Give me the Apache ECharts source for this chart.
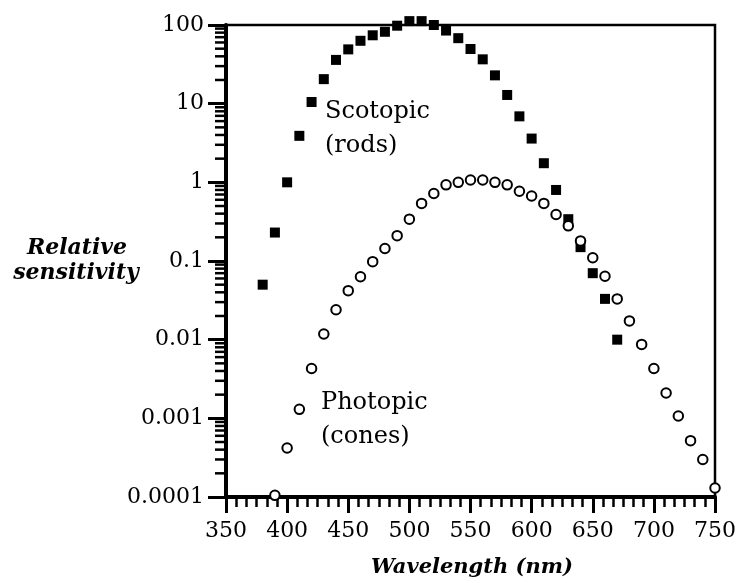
<!DOCTYPE html>
<html>
<head>
<meta charset="utf-8">
<script src="https://cdn.jsdelivr.net/npm/echarts@6/dist/echarts.min.js"></script>
<style>
  html, body { margin: 0; padding: 0; background: #fff; }
  #chart { width: 739px; height: 583px; }
</style>
</head>
<body>
<div id="chart"></div>
<script>
// ---- Data ----
const scotopicWavelengths = [380, 390, 400, 410, 420, 430, 440, 450, 460, 470, 480, 490, 500, 510, 520,
  530, 540, 550, 560, 570, 580, 590, 600, 610, 620, 630, 640, 650, 660, 670];
const scotopicValues = [0.05, 0.23, 1.0, 3.9, 10.5, 20.5, 36, 49, 63, 74, 82, 98, 112, 112, 100,
  85, 68, 49.5, 36.6, 22.9, 12.9, 6.9, 3.6, 1.75, 0.8, 0.34, 0.15, 0.07, 0.033, 0.01];

const photopicWavelengths = [390, 400, 410, 420, 430, 440, 450, 460, 470, 480, 490, 500, 510, 520,
  530, 540, 550, 560, 570, 580, 590, 600, 610, 620, 630, 640, 650, 660, 670, 680, 690, 700, 710,
  720, 730, 740, 750];
const photopicValues = [0.000105, 0.00042, 0.0013, 0.0043, 0.0118, 0.024, 0.042, 0.063, 0.098, 0.144,
  0.21, 0.34, 0.54, 0.72, 0.93, 1.0, 1.07, 1.07, 1.0, 0.93, 0.77, 0.67, 0.54, 0.39, 0.28, 0.18,
  0.11, 0.064, 0.033, 0.0173, 0.0087, 0.0043, 0.0021, 0.00107, 0.00052, 0.0003, 0.00013];

const yTickLabels = ['0.0001', '0.001', '0.01', '0.1', '1', '10', '100'];
const xTickLabels = ['350', '400', '450', '500', '550', '600', '650', '700', '750'];
const yDecades = [0.0001, 0.001, 0.01, 0.1, 1, 10];
const yMinorMultipliers = [2, 3, 4, 5, 6, 7, 8, 9];

// log minor tick positions (axis structure)
const yMinorTicks = [];
yDecades.forEach(d => yMinorMultipliers.forEach(m => yMinorTicks.push([350, +(d * m).toPrecision(3)])));

const FONT = 'DejaVu Serif';

const chart = echarts.init(document.getElementById('chart'), null, { renderer: 'canvas' });

chart.setOption({
  backgroundColor: '#ffffff',
  animation: false,
  grid: {
    left: 226, right: 21, top: 25, bottom: 86,
    show: true, borderColor: '#000', borderWidth: 2.5, backgroundColor: 'transparent'
  },
  xAxis: {
    type: 'value',
    min: 350, max: 750, interval: 50,
    axisLine: { show: true, onZero: false, lineStyle: { color: '#000', width: 4 } },
    axisTick: { show: true, inside: false, length: 16, lineStyle: { color: '#000', width: 3 } },
    minorTick: { show: true, splitNumber: 6, length: 10, lineStyle: { color: '#000', width: 2.5 } },
    splitLine: { show: false },
    minorSplitLine: { show: false },
    axisLabel: {
      margin: 23, color: '#000', fontFamily: FONT, fontSize: 22,
      formatter: v => xTickLabels[Math.round((v - 350) / 50)]
    }
  },
  yAxis: {
    type: 'log', logBase: 10,
    min: 0.0001, max: 100, splitNumber: 6,
    axisLine: { show: true, onZero: false, lineStyle: { color: '#000', width: 4 } },
    axisTick: { show: true, inside: false, length: 18, lineStyle: { color: '#000', width: 3 } },
    splitLine: { show: false },
    axisLabel: {
      margin: 22, color: '#000', fontFamily: FONT, fontSize: 22,
      formatter: v => yTickLabels[Math.round(Math.log10(v)) + 4]
    }
  },
  graphic: [
    { type: 'text', style: { x: 77, y: 248, text: 'Relative', textAlign: 'center', textVerticalAlign: 'middle',
      font: 'italic bold 22px "DejaVu Serif"', fill: '#000' } },
    { type: 'text', style: { x: 76, y: 273, text: 'sensitivity', textAlign: 'center', textVerticalAlign: 'middle',
      font: 'italic bold 22px "DejaVu Serif"', fill: '#000' } },
    { type: 'text', style: { x: 472, y: 568, text: 'Wavelength (nm)', textAlign: 'center', textVerticalAlign: 'middle',
      font: 'italic bold 21px "DejaVu Serif"', fill: '#000' } },
    { type: 'text', style: { x: 325, y: 112, text: 'Scotopic', textAlign: 'left', textVerticalAlign: 'middle',
      font: '24px "DejaVu Serif"', fill: '#000' } },
    { type: 'text', style: { x: 325, y: 146, text: '(rods)', textAlign: 'left', textVerticalAlign: 'middle',
      font: '24px "DejaVu Serif"', fill: '#000' } },
    { type: 'text', style: { x: 321, y: 403, text: 'Photopic', textAlign: 'left', textVerticalAlign: 'middle',
      font: '24px "DejaVu Serif"', fill: '#000' } },
    { type: 'text', style: { x: 321, y: 437, text: '(cones)', textAlign: 'left', textVerticalAlign: 'middle',
      font: '24px "DejaVu Serif"', fill: '#000' } }
  ],
  series: [
    {
      type: 'custom',
      silent: true,
      clip: false,
      data: yMinorTicks,
      renderItem: (params, api) => {
        const p = api.coord([api.value(0), api.value(1)]);
        return {
          type: 'line',
          shape: { x1: p[0] - 11, y1: p[1], x2: p[0], y2: p[1] },
          style: { stroke: '#000', lineWidth: 2.5 }
        };
      },
      z: 1
    },
    {
      name: 'Scotopic (rods)',
      type: 'scatter',
      clip: false,
      symbol: 'rect',
      symbolSize: 10,
      itemStyle: { color: '#000', opacity: 1 },
      data: scotopicWavelengths.map((w, i) => [w, scotopicValues[i]]),
      z: 3
    },
    {
      name: 'Photopic (cones)',
      type: 'scatter',
      clip: false,
      symbol: 'circle',
      symbolSize: 9.5,
      itemStyle: { color: '#fff', borderColor: '#000', borderWidth: 2, opacity: 1 },
      data: photopicWavelengths.map((w, i) => [w, photopicValues[i]]),
      z: 4
    }
  ]
});
</script>
</body>
</html>
